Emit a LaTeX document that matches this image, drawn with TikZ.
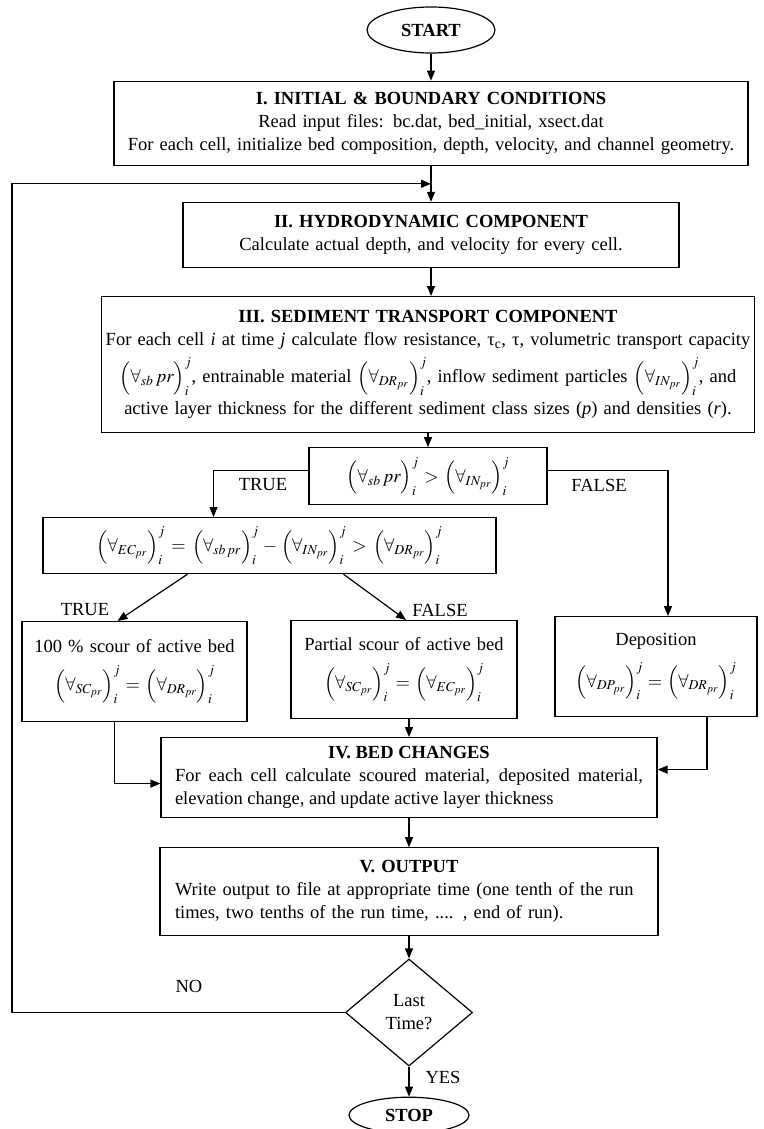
\documentclass[tikz,border=0pt]{standalone}
\usepackage{mathptmx}
\usepackage{fontspec}
\setmainfont{Liberation Serif}
\usetikzlibrary{arrows.meta,positioning,shapes.geometric,calc}
\newcommand{\vol}[1]{\Bigl(#1\Bigr)_{i}^{j}}

\begin{document}
\begin{tikzpicture}[
  x=1pt, y=-1pt,
  font=\fontsize{18.5}{23}\selectfont,
  box/.style={draw,line width=1.2pt,inner xsep=2pt,inner ysep=4pt,align=center},
  term/.style={draw,ellipse,line width=1.2pt,inner sep=0pt,font=\fontsize{18.5}{23}\selectfont\bfseries},
  test/.style={draw,diamond,line width=1.2pt,inner sep=1pt,align=center,minimum width=127pt,minimum height=107pt},
  arrow/.style={-{Triangle[length=10pt,width=8pt]},line width=1.2pt},
  lbl/.style={inner sep=0pt}
]
  \useasboundingbox (0,0) rectangle (763,1129);

  % main column
  \node[term,minimum width=128pt,minimum height=46pt] (start) at (431,30) {START};
  \node[box,below=27pt of start,text width=630pt,minimum height=84pt] (init)
    {\textbf{I. INITIAL \& BOUNDARY CONDITIONS}\\
     Read input files: bc.dat, bed\_initial, xsect.dat\\
     For each cell, initialize bed composition, depth, velocity, and channel geometry.};
  \node[box,below=36pt of init,text width=492pt,minimum height=65pt] (hydro)
    {\textbf{II. HYDRODYNAMIC COMPONENT}\\
     Calculate actual depth, and velocity for every cell.};
  \node[box,below=28pt of hydro,xshift=-3pt,text width=649pt,minimum height=136pt,inner ysep=2pt] (sed)
    {\textbf{III. SEDIMENT TRANSPORT COMPONENT}\\
     For each cell \textit{i} at time \textit{j} calculate flow resistance, τ\textsubscript{c}, τ, volumetric transport capacity\\[7pt]
     $\vol{\forall_{sb}\,pr}$, entrainable material $\vol{\forall_{DR_{pr}}}$, inflow sediment particles $\vol{\forall_{IN_{pr}}}$, and\\[5pt]
     active layer thickness for the different sediment class sizes (\textit{p}) and densities (\textit{r}).};
  \node[box,below=14pt of sed,text width=234pt,minimum height=57pt] (cond)
    {$\vol{\forall_{sb}\,pr}>\vol{\forall_{IN_{pr}}}$};

  % branches
  \node[box,anchor=north,text width=449pt,minimum height=56pt] (ec) at (269.5,517)
    {$\vol{\forall_{EC_{pr}}}=\vol{\forall_{sb\,pr}}-\vol{\forall_{IN_{pr}}}>\vol{\forall_{DR_{pr}}}$};
  \node[box,anchor=north,text width=221pt,minimum height=100pt] (full) at (134.5,621)
    {100 \% scour of active bed\\[12pt] $\vol{\forall_{SC_{pr}}}=\vol{\forall_{DR_{pr}}}$};
  \node[box,anchor=north,text width=222pt,minimum height=98pt] (part) at (404,620)
    {Partial scour of active bed\\[12pt] $\vol{\forall_{SC_{pr}}}=\vol{\forall_{EC_{pr}}}$};
  \node[box,anchor=north,text width=198pt,minimum height=100pt] (depo) at (656,616)
    {Deposition\\[12pt] $\vol{\forall_{DP_{pr}}}=\vol{\forall_{DR_{pr}}}$};

  \node[box,anchor=north,text width=468pt,inner xsep=14pt,minimum height=80pt,align=justify] (bed) at (409,737)
    {{\centering\textbf{IV. BED CHANGES}\par}
     For each cell calculate scoured material, deposited material,\linebreak
     elevation change, and update active layer thickness};
  \node[box,below=29pt of bed,text width=468pt,inner xsep=15pt,minimum height=88pt,align=left] (out)
    {{\centering\textbf{V. OUTPUT}\par}
     Write output to file at appropriate time (one tenth of the run\\
     times, two tenths of the run time, .... , end of run).};
  \node[test,below=22pt of out] (last) {Last\\Time?};
  \node[term,below=30pt of last,minimum width=120pt,minimum height=36pt] (stop) {STOP};

  % labels
  \node[lbl] (t1) at (263,485) {TRUE};
  \node[lbl] (f1) at (599,485) {FALSE};
  \node[lbl] (t2) at (85,610) {TRUE};
  \node[lbl] (f2) at (440,610) {FALSE};
  \node[lbl] (no) at (189,986) {NO};
  \node[lbl] (yes) at (443,1077) {YES};

  \coordinate (edge) at (12,0);
  \coordinate (join) at ($(init.south)!0.5!(hydro.north)$);

  % connectors
  \draw[arrow] (start) -- (init);
  \draw[arrow] (init.south) -- (init.south |- hydro.north);
  \draw[arrow] (hydro.south) -- (hydro.south |- sed.north);
  \draw[arrow] (sed.south) -- (cond.north);
  \draw[arrow] ([yshift=6pt]cond.west) -| ($(ec.north)+(-56,0)$);
  \draw[arrow] ([yshift=6pt]cond.east) -| ($(depo.north)+(12,0)$);
  \draw[arrow] ($(ec.south)+(-82,0)$) -- ($(full.north)+(-17,0)$);
  \draw[arrow] ($(ec.south)+(74,0)$) -- ($(part.north)+(2,0)$);
  \draw[arrow] ($(full.south)+(-20,0)$) |- ([yshift=-6pt]bed.west);
  \draw[arrow] (part.south -| bed.north) -- (bed.north);
  \draw[arrow] ($(depo.south)+(51,0)$) |- ([yshift=8pt]bed.east);
  \draw[arrow] (bed) -- (out);
  \draw[arrow] (out) -- (last);
  \draw[arrow] (last) -- (stop);
  \draw[arrow] (last.west) -- (last.west -| edge) |- (join);
\end{tikzpicture}
\end{document}
